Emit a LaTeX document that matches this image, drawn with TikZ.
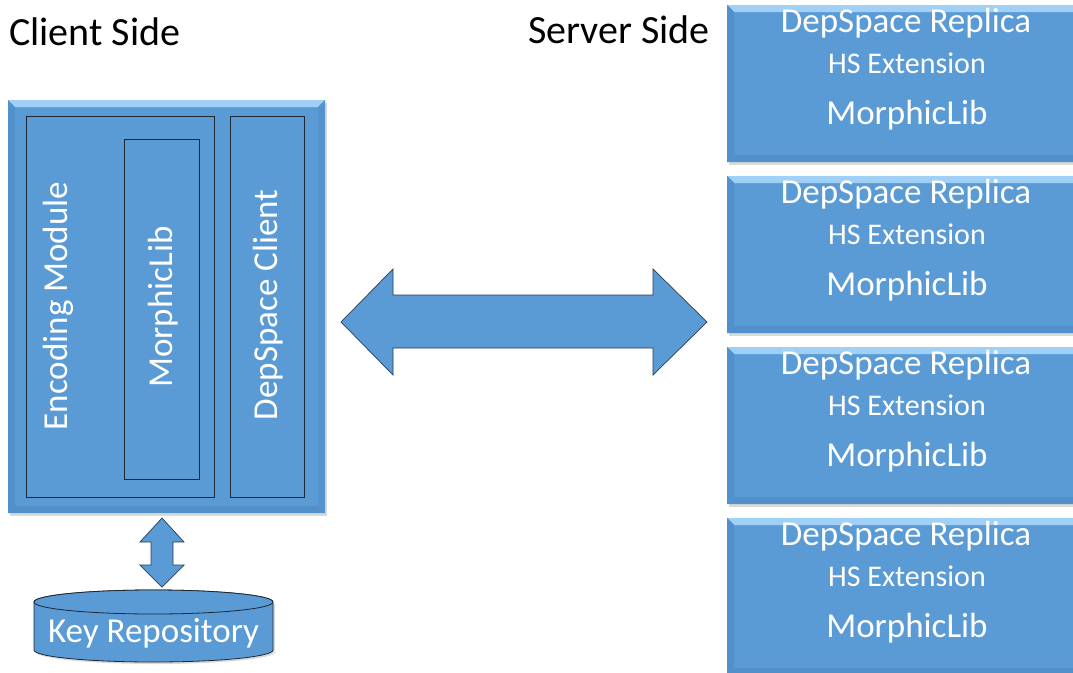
\documentclass[tikz,border=0pt]{standalone}
\usepackage{fontspec}
\setmainfont{Carlito}
\usetikzlibrary{calc}
\definecolor{base}{HTML}{5B9BD5}
\definecolor{bevtop}{RGB}{160,208,246}
\definecolor{bevleft}{RGB}{80,144,204}
\definecolor{bevright}{RGB}{84,148,206}
\definecolor{bevbot}{RGB}{82,144,202}
\definecolor{edge}{RGB}{30,40,50}
\definecolor{arrowedge}{RGB}{40,60,85}
\newcommand\bevelof[2][7]{%
  \fill[bevtop] (#2.north west) -- (#2.north east) -- ($(#2.north east)+(-#1,#1)$) -- ($(#2.north west)+(#1,#1)$) -- cycle;
  \fill[bevleft] (#2.north west) -- ($(#2.north west)+(#1,#1)$) -- ($(#2.south west)+(#1,-#1)$) -- (#2.south west) -- cycle;
  \fill[bevright] (#2.north east) -- ($(#2.north east)+(-#1,#1)$) -- ($(#2.south east)+(-#1,-#1)$) -- (#2.south east) -- cycle;
  \fill[bevbot] (#2.south west) -- ($(#2.south west)+(#1,-#1)$) -- ($(#2.south east)+(-#1,-#1)$) -- (#2.south east) -- cycle;
}
\begin{document}
\begin{tikzpicture}[x=1pt,y=-1pt,
  bevbox/.style={fill=base, inner sep=0pt, outer sep=0pt, anchor=north west},
  innerbox/.style={fill=base, draw=edge, line width=0.9pt, inner sep=0pt, outer sep=0pt, anchor=north west},
  wtext/.style={text=white, inner sep=0pt, font=\fontsize{35}{40}\selectfont},
  htext/.style={text=black, inner sep=0pt, font=\fontsize{40}{44}\selectfont, anchor=base west},
  blockarrow/.style={fill=base, draw=arrowedge, line width=0.7pt, line join=miter},
  shadow/.style={fill=black, opacity=0.15}
]
\path[use as bounding box] (0,0) rectangle (1073,672);
\clip (0,0) rectangle (1073,672);
\fill[white] (0,0) rectangle (1073,672);

% headers
\node[htext] (clientside) at (9,45) {Client Side};
\node[htext] (serverside) at (528,43) {Server Side};

% client box
\fill[shadow] (10,103) rectangle (327,516);
\node[bevbox, minimum width=317pt, minimum height=413pt] (client) at (8,100) {};
\bevelof{client}
\node[innerbox, minimum width=188pt, minimum height=381pt] (enc) at (26,116) {};
\node[innerbox, minimum width=75pt, minimum height=340pt] (morph) at (124,139) {};
\node[innerbox, minimum width=74pt, minimum height=381pt] (dsc) at (230,116) {};
\node[wtext, rotate=90] (enctext) at (58,306) {Encoding Module};
\node[wtext, rotate=90] (morphtext) at (163,307) {MorphicLib};
\node[wtext, rotate=90] (dsctext) at (268,305) {DepSpace Client};

% server boxes
\foreach \t/\n in {5/r1,176/r2,347/r3,518/r4}{
  \fill[shadow] (729,\t+3) rectangle (1100,\t+160);
  \node[bevbox, minimum width=360pt, minimum height=157pt] (\n) at (727,\t) {};
  \bevelof{\n}
  \node[wtext, anchor=base] (\n a) at (906,\t+27) {DepSpace Replica};
  \node[wtext, anchor=base, font=\fontsize{30}{34}\selectfont] (\n b) at (907,\t+68) {HS Extension};
  \node[wtext, anchor=base] (\n c) at (907,\t+119) {MorphicLib};
}

% big double arrow
\coordinate (L) at (341,322);
\coordinate (R) at (707,322);
\draw[blockarrow] (L) -- ($(L)+(52,-53)$) -- ($(L)+(52,-27)$) -- ($(R)+(-54,-27)$) -- ($(R)+(-54,-53)$) -- (R)
  -- ($(R)+(-54,53)$) -- ($(R)+(-54,26)$) -- ($(L)+(52,26)$) -- ($(L)+(52,53)$) -- cycle;

% key repository cylinder
\fill[shadow] (36,604) -- (36,652) arc[start angle=180,end angle=0,x radius=119.5,y radius=12] -- (275,604) -- cycle;
\draw[fill=base, draw=edge, line width=0.8pt] (34,602) -- (34,650) arc[start angle=180,end angle=0,x radius=119.5,y radius=12]
  -- (273,602) arc[start angle=0,end angle=-180,x radius=119.5,y radius=12] -- cycle;
\draw[fill=base, draw=edge, line width=0.8pt] (153.5,602) ellipse[x radius=119.5,y radius=12];
\node[wtext, anchor=base] (keyrepo) at (153.5,642) {Key Repository};

% small vertical double arrow
\coordinate (T) at (162,518);
\coordinate (B) at (162,587);
\draw[blockarrow] (T) -- ($(T)+(22,24)$) -- ($(T)+(11,24)$) -- ($(B)+(11,-22)$) -- ($(B)+(22,-22)$) -- (B)
  -- ($(B)+(-22,-22)$) -- ($(B)+(-11,-22)$) -- ($(T)+(-11,24)$) -- ($(T)+(-22,24)$) -- cycle;
\end{tikzpicture}
\end{document}
